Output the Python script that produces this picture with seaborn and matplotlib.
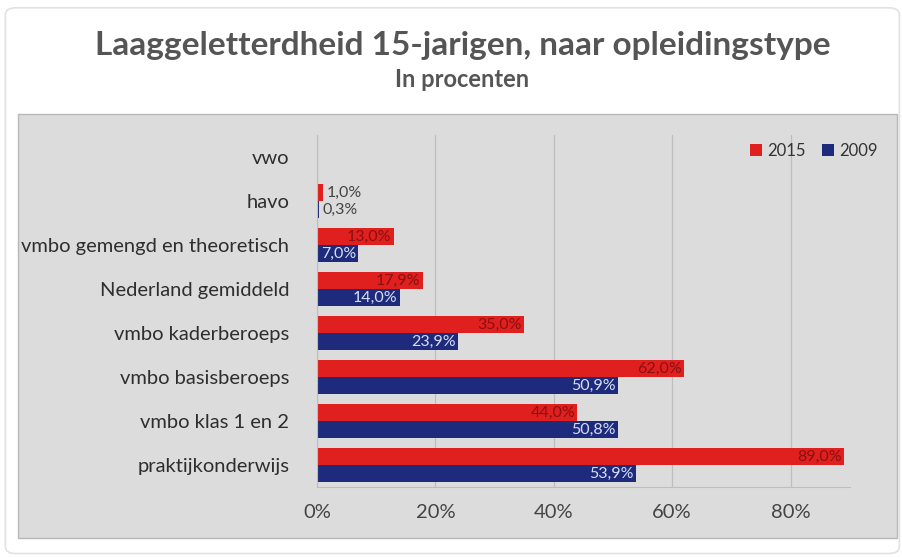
import matplotlib
matplotlib.use("Agg")
import matplotlib.pyplot as plt
import seaborn as sns
import pandas as pd
import numpy as np
from matplotlib.patches import FancyBboxPatch, Rectangle

categories = [
    "vwo",
    "havo",
    "vmbo gemengd en theoretisch",
    "Nederland gemiddeld",
    "vmbo kaderberoeps",
    "vmbo basisberoeps",
    "vmbo klas 1 en 2",
    "praktijkonderwijs",
]
values_2015 = [np.nan, 1.0, 13.0, 17.9, 35.0, 62.0, 44.0, 89.0]
values_2009 = [np.nan, 0.3, 7.0, 14.0, 23.9, 50.9, 50.8, 53.9]
years = ["2015", "2009"]
x_ticks = [0, 20, 40, 60, 80]

RED = "#e0201f"
NAVY = "#1e2a7c"
PANEL = "#dcdcdc"
TEXT = "#555555"
FONT = ["Lato", "DejaVu Sans"]

df = pd.DataFrame({
    "type": categories * 2,
    "pct": values_2015 + values_2009,
    "year": ["2015"] * len(categories) + ["2009"] * len(categories),
})

sns.set_style("white")
plt.rcParams["font.family"] = FONT

fig = plt.figure(figsize=(9.03, 5.58), dpi=100, facecolor="white")

# card and gray panel behind the plot
fig.patches.append(FancyBboxPatch((0.006, 0.008), 0.99, 0.978,
                                  boxstyle="round,pad=0,rounding_size=0.012",
                                  transform=fig.transFigure, facecolor="white",
                                  edgecolor="#e2e2e2", lw=1.2, zorder=0))
fig.patches.append(Rectangle((0.020, 0.036), 0.973, 0.760,
                             transform=fig.transFigure, facecolor=PANEL,
                             edgecolor="#b8b8b8", lw=1.0, zorder=1))

ax = fig.add_axes([0.351, 0.127, 0.590, 0.631])
ax.set_facecolor(PANEL)
ax.set_zorder(2)

sns.barplot(data=df, y="type", x="pct", hue="year", hue_order=years,
            order=categories, orient="h", palette=[RED, NAVY],
            width=0.78, ax=ax, saturation=1, errorbar=None, linewidth=0)

ax.set_xlim(0, 90)
ax.set_ylim(len(categories) - 0.5, -0.5)
ax.set_xticks(x_ticks)
ax.set_xticklabels([f"{t}%" for t in x_ticks], fontsize=14.5, color="#444444")
ax.tick_params(axis="y", labelsize=14.5, colors="#2e2e2e", length=0, pad=20)
ax.tick_params(axis="x", length=0, pad=12)
ax.set_xlabel("")
ax.set_ylabel("")
ax.grid(axis="x", color="#bdbdbd", lw=0.9)
ax.set_axisbelow(True)
for side in ["top", "right"]:
    ax.spines[side].set_visible(False)
ax.spines["left"].set_color("#bdbdbd")
ax.spines["bottom"].set_color("#bdbdbd")

# value labels
for container, year in zip(ax.containers, years):
    for bar in container:
        w = bar.get_width()
        if np.isnan(w) or w == 0:
            continue
        yc = bar.get_y() + bar.get_height() / 2
        lbl = f"{w:.1f}%".replace(".", ",")
        if w < 5:
            ax.text(w + 0.6, yc, lbl, ha="left", va="center",
                    fontsize=11.5, color="#444444")
        else:
            col = "#8a1010" if year == "2015" else "#d8def5"
            ax.text(w - 0.4, yc, lbl, ha="right", va="center",
                    fontsize=11.5, color=col)

ax.legend(loc="upper right", bbox_to_anchor=(1.08, 1.02), ncol=2,
          frameon=False, fontsize=12, handlelength=0.7, handleheight=0.7,
          columnspacing=1.0, handletextpad=0.3, labelcolor="#333333")

fig.text(0.512, 0.918, "Laaggeletterdheid 15-jarigen, naar opleidingstype",
         ha="center", va="center", fontsize=24, fontweight="bold",
         color=TEXT, family=FONT)
fig.text(0.512, 0.858, "In procenten", ha="center", va="center",
         fontsize=17, fontweight="bold", color=TEXT, family=FONT)

fig.savefig("out.png", dpi=100, facecolor="white")
